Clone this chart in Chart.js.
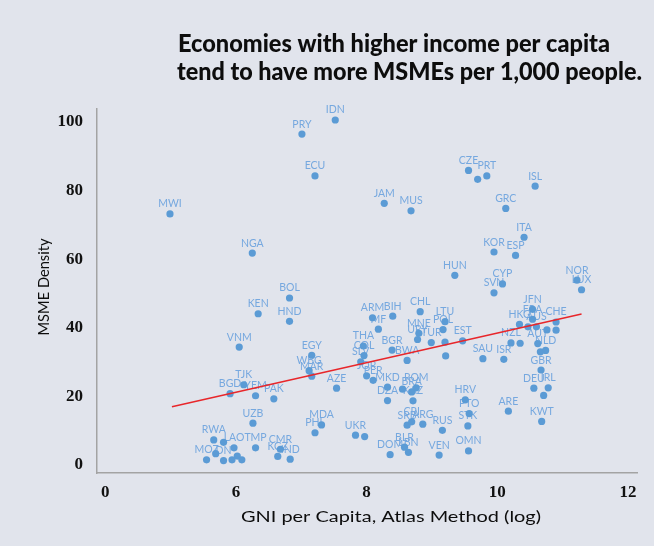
<!DOCTYPE html>
<html><head><meta charset="utf-8">
<script src="https://cdn.jsdelivr.net/npm/chart.js@4.4.0/dist/chart.umd.min.js"></script>
<style>html,body{margin:0;padding:0;background:#e1e4ec;}canvas{display:block;}</style>
</head><body>
<canvas id="c" width="654" height="546"></canvas>
<script>
// ---- data ----
const countries = ['MWI','IDN','PRY','ECU','JAM','MUS','CZE','','PRT','ISL','GRC','ITA','KOR','ESP','HUN','CYP','SVN','NOR','LUX',
  'NGA','BOL','KEN','HND','VNM','TJK','BGD','YEM','PAK',
  'ARM','BIH','MF','CHL','LTU','POL','MNE','URY','TUR','','','EST','THA','COL','SLV','BGR','BWA','EGY','WBG','MAR','JOR','PER','AZE',
  'MKD','DZA','','BRA','ROM','KAZ','HRV','SAU','ISR',
  'JFN','FRA','HKG','','AUS','','CHE','','NZL','','AUT','','NLD','GBR','DEU','IRL','','ARE','PTO','STK','KWT','OMN',
  'UZB','RWA','','LAO','TMP','MOZ','','DN','','','','KGZ','CMR','IND',
  'MDA','PHL','UKR','','SRB','CRI','ARG','RUS','DOM','BLR','LBN','VEN'];
const gniLog = [4.99,7.52,7.01,7.21,8.27,8.68,9.56,9.70,9.84,10.58,10.13,10.41,9.95,10.28,9.35,10.08,9.95,11.22,11.29,
  6.25,6.82,6.34,6.82,6.05,6.12,5.91,6.30,6.58,
  8.09,8.40,8.18,8.82,9.20,9.17,8.80,8.78,8.99,9.20,9.21,9.47,7.95,7.96,7.91,8.39,8.62,7.16,7.12,7.16,8.00,8.10,7.54,
  8.32,8.32,8.55,8.69,8.76,8.71,9.51,9.78,10.10,
  10.54,10.54,10.34,10.47,10.60,10.76,10.90,10.90,10.21,10.35,10.62,10.66,10.74,10.67,10.56,10.78,10.71,10.17,9.57,9.55,10.68,9.56,
  6.26,5.66,5.81,5.97,6.30,5.55,5.69,5.81,5.94,6.02,6.09,6.64,6.68,6.83,
  7.31,7.21,7.83,7.97,8.62,8.69,8.86,9.16,8.36,8.58,8.64,9.11];
const msmeDensity = [73.2,100.6,96.5,84.3,76.3,74.1,85.9,83.3,84.3,81.3,74.8,66.4,62.1,61.1,55.3,52.8,50.2,53.9,51.1,
  61.8,48.7,44.1,41.9,34.4,23.4,20.8,20.2,19.3,
  42.9,43.4,39.6,44.7,41.8,39.5,38.4,36.6,35.7,35.8,31.8,36.2,34.7,31.9,30.1,33.5,30.5,32.0,27.5,25.9,26.0,24.7,22.4,
  22.7,18.8,22.1,21.3,22.5,18.7,19.0,31.0,30.8,
  45.4,42.5,41.0,40.3,40.3,39.4,41.7,39.3,35.6,35.5,35.4,33.0,33.4,27.7,22.4,22.5,20.3,15.7,15.0,11.4,12.7,4.1,
  12.2,7.3,6.6,5.0,5.0,1.5,3.3,1.3,1.5,2.6,1.5,2.5,4.6,1.7,
  11.7,9.4,8.7,8.3,11.6,12.6,11.9,10.1,3.0,5.2,3.7,2.9];
const trendX = [5.02, 11.29];
const trendY = [17.0, 44.0];
const xTickValues = [4, 6, 8, 10, 12];
const xTickLabels = ['0', '6', '8', '10', '12'];
const yTickValues = [0, 20, 40, 60, 80, 100];
const titleLines = ['Economies with higher income per capita', 'tend to have more MSMEs per 1,000 people.'];
const xAxisTitle = 'GNI per Capita, Atlas Method (log)';
const yAxisTitle = 'MSME Density';

// ---- drawing ----
const BG = '#e1e4ec';
function fitText(ctx, text, x, y, targetW) {
  const w = ctx.measureText(text).width;
  const sx = targetW / w;
  ctx.save(); ctx.translate(x, y); ctx.scale(sx, 1); ctx.fillText(text, 0, 0); ctx.restore();
}
const bgPlugin = { id: 'bg', beforeDraw(chart) { const c = chart.ctx; c.save(); c.fillStyle = BG; c.fillRect(0, 0, chart.width, chart.height); c.restore(); } };
const labelPlugin = { id: 'ptLabels', beforeDatasetsDraw(chart) {
  const c = chart.ctx; const meta = chart.getDatasetMeta(1);
  c.save(); c.font = '10.5px Lato'; c.fillStyle = '#76a8df'; c.textAlign = 'center'; c.textBaseline = 'alphabetic';
  meta.data.forEach((pt, i) => { if (countries[i]) c.fillText(countries[i], pt.x, pt.y - 6.5); });
  c.restore();
}};
const textPlugin = { id: 'texts', afterDraw(chart) {
  const c = chart.ctx; c.save(); c.fillStyle = '#0d0d0d'; c.textBaseline = 'alphabetic'; c.textAlign = 'left';
  c.font = '900 24px Lato';
  fitText(c, titleLines[0], 178, 52, 432);
  fitText(c, titleLines[1], 177, 80, 465);
  c.font = '16px Lato';
  c.textAlign = 'center';
  fitText(c, xAxisTitle, 391, 522, 300);
  c.save(); c.translate(49, 287); c.rotate(-Math.PI / 2); c.font = '15px Lato'; fitText(c, yAxisTitle, 0, 0, 97); c.restore();
  c.restore();
}};

const pts = countries.map((c, i) => ({ x: gniLog[i], y: msmeDensity[i] }));
const trend = trendX.map((x, i) => ({ x, y: trendY[i] }));

new Chart(document.getElementById('c'), {
  type: 'scatter',
  data: { datasets: [
    { type: 'line', data: trend, borderColor: '#e8262a', borderWidth: 1.5, pointRadius: 0, fill: false, showLine: true },
    { data: pts, backgroundColor: '#5b9bd5', borderColor: '#5b9bd5', pointRadius: 3.6, pointHoverRadius: 3.6, borderWidth: 0 }
  ]},
  options: {
    responsive: false, animation: false, devicePixelRatio: 1,
    layout: { padding: { top: 109, right: 17, left: 0, bottom: 0 } },
    plugins: { legend: { display: false }, tooltip: { enabled: false }, title: { display: false } },
    scales: {
      x: { type: 'linear', min: 3.873, max: 12.139,
        afterBuildTicks: s => { s.ticks = xTickValues.map(v => ({ value: v })); },
        afterFit: s => { s.height = 73; },
        grid: { display: false, drawTicks: false },
        border: { display: true, color: '#a3a3a3', width: 1.5 },
        ticks: { autoSkip: false, maxRotation: 0, padding: 9, color: '#111',
          font: { family: 'Liberation Serif', weight: 'bold', size: 17 },
          callback: (v, i) => xTickLabels[i] }
      },
      y: { type: 'linear', min: -2.33, max: 103.8,
        afterBuildTicks: s => { s.ticks = yTickValues.map(v => ({ value: v })); },
        afterFit: s => { s.width = 97; },
        grid: { display: false, drawTicks: false },
        border: { display: true, color: '#a3a3a3', width: 1.5 },
        ticks: { autoSkip: false, padding: 14, color: '#111',
          font: { family: 'Liberation Serif', weight: 'bold', size: 17 },
          callback: (v) => String(v) }
      }
    }
  },
  plugins: [bgPlugin, labelPlugin, textPlugin]
});
</script>
</body></html>
